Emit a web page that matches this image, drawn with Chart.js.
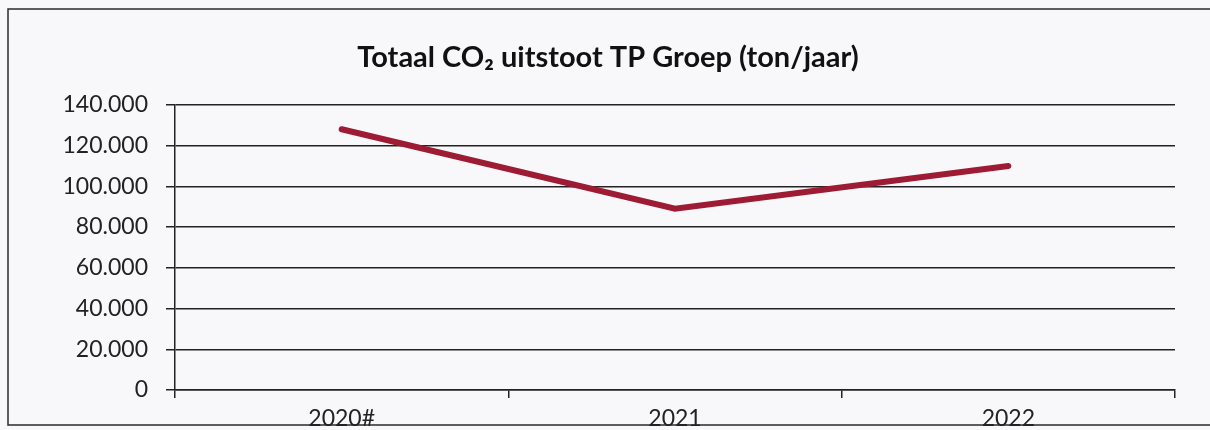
<!DOCTYPE html>
<html>
<head>
<meta charset="utf-8">
<script src="https://cdn.jsdelivr.net/npm/chart.js@4/dist/chart.umd.min.js"></script>
<style>
  html, body { margin: 0; padding: 0; background: #f8f8fb; }
  #wrap { width: 1210px; height: 430px; }
</style>
</head>
<body>
<div id="wrap"><canvas id="chart" width="1210" height="430"></canvas></div>
<script>
"use strict";

// data
const years = ["2020#", "2021", "2022"];
const co2Tons = [128000, 89000, 110000];
const yTicks = [0, 20000, 40000, 60000, 80000, 100000, 120000, 140000];

// dutch thousands separator
function formatDutch(v) {
  return v.toLocaleString("nl-NL");
}

// frame round the chart, like the pasted excel chart
const framePlugin = {
  id: "frame",
  beforeDraw(chart) {
    const ctx = chart.ctx;
    ctx.save();
    ctx.fillStyle = "#f8f8fb";
    ctx.fillRect(0, 0, chart.width, chart.height);
    ctx.strokeStyle = "#2a2a2a";
    ctx.lineWidth = 1.5;
    ctx.strokeRect(8, 9, 1230, 416);
    ctx.restore();
  },
};

const config = {
  type: "line",
  data: {
    labels: years,
    datasets: [
      {
        label: "CO2",
        data: co2Tons,
        borderColor: "#9e1c33",
        borderWidth: 6,
        pointRadius: 0,
        tension: 0,
        borderCapStyle: "round",
      },
    ],
  },
  options: {
    responsive: false,
    animation: false,
    layout: { padding: { left: 41, right: 35, top: 0, bottom: 0 } },
    plugins: {
      legend: { display: false },
      tooltip: { enabled: false },
      title: {
        display: true,
        text: "Totaal CO\u2082 uitstoot TP Groep (ton/jaar)",
        color: "#111",
        font: { family: "Lato", size: 29, weight: "bold" },
        padding: { top: 40, bottom: 30 },
      },
    },
    scales: {
      x: {
        offset: true,
        grid: {
          offset: true,
          drawOnChartArea: false,
          drawTicks: true,
          tickLength: 8,
          color: "#222",
          lineWidth: 1.5,
        },
        border: { display: true, color: "#222", width: 1.5 },
        ticks: {
          color: "#222",
          padding: 7,
          font: { family: "Lato", size: 23 },
        },
        afterFit(scale) {
          scale.height = 40;
        },
      },
      y: {
        min: 0,
        max: 140000,
        afterBuildTicks(scale) {
          scale.ticks = yTicks.map((v) => ({ value: v }));
        },
        grid: {
          color: "#222",
          lineWidth: 1.5,
          tickLength: 9,
        },
        border: { display: true, color: "#222", width: 1.5 },
        ticks: {
          color: "#222",
          padding: 18,
          font: { family: "Lato", size: 23 },
          callback: (v) => formatDutch(v),
        },
        afterFit(scale) {
          scale.width = 134;
        },
      },
    },
  },
  plugins: [framePlugin],
};

const co2Chart = new Chart(document.getElementById("chart"), config);
</script>
</body>
</html>
